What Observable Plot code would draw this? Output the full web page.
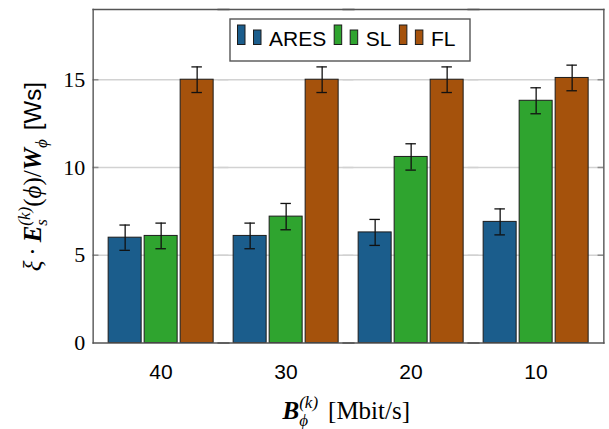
<!DOCTYPE html>
<html>
<head>
<meta charset="utf-8">
<script src="https://cdn.jsdelivr.net/npm/d3@7"></script>
<script src="https://cdn.jsdelivr.net/npm/@observablehq/plot@0.6"></script>
<style>
  body { margin: 0; background: #fff; }
  #chart { width: 609px; height: 429px; }
</style>
</head>
<body>
<div id="chart"></div>
<script>
// Bandwidth categories (Mbit/s) and the three schemes
const categories = ["40", "30", "20", "10"];
const series = ["ARES", "SL", "FL"];

// Normalised energy per scheme, one value per bandwidth
const aresValues = [6.0, 6.1, 6.3, 6.9];
const slValues = [6.1, 7.2, 10.6, 13.8];
const flValues = [15.0, 15.0, 15.0, 15.1];

// Half-widths of the error bars
const aresErr = [0.72, 0.73, 0.74, 0.74];
const slErr = [0.73, 0.75, 0.75, 0.74];
const flErr = [0.73, 0.73, 0.73, 0.73];

const colors = ["#1b5d8c", "#2fa42f", "#a5520c"];
const yTicks = [0, 5, 10, 15];

const W = 609, H = 429;
// the axis box runs 5.35px past the outer facets on each side
const ext = 5.35;
const margin = {left: 92.5 + ext, right: 5 + ext, top: 9, bottom: 86.5};
const facetW = (W - margin.left - margin.right) / categories.length;
const tickLen = 6;

const valuesBySeries = [aresValues, slValues, flValues];
const errBySeries = [aresErr, slErr, flErr];
const rows = [];
categories.forEach((c, i) => {
  series.forEach((s, j) => {
    rows.push({category: c, series: s, value: valuesBySeries[j][i], err: errBySeries[j][i]});
  });
});

const frameStroke = {stroke: "#555", strokeWidth: 1.4};

const plot = Plot.plot({
  width: W,
  height: H,
  marginLeft: margin.left,
  marginRight: margin.right,
  marginTop: margin.top,
  marginBottom: margin.bottom,
  style: {fontFamily: "Liberation Sans, Arial, sans-serif", fontSize: "21px", background: "#fff", color: "#000"},
  fx: {domain: categories, padding: 0},
  x: {domain: series, paddingInner: 0.087, paddingOuter: 0.249, axis: null},
  y: {domain: [0, 19], axis: null},
  color: {domain: series, range: colors},
  marks: [
    // horizontal grid, stretched so neighbouring facets join up
    Plot.ruleY(yTicks.slice(1), {stroke: "#d2d2d2", strokeWidth: 1.5, insetLeft: -ext, insetRight: -ext}),
    // short inner tick marks on both sides of the box
    Plot.ruleY(yTicks.slice(1), {facetAnchor: "left", stroke: "#8c8c8c", strokeWidth: 1.5,
      insetLeft: -ext, insetRight: facetW + ext - tickLen}),
    Plot.ruleY(yTicks.slice(1), {facetAnchor: "right", stroke: "#8c8c8c", strokeWidth: 1.5,
      insetLeft: facetW + ext - tickLen, insetRight: -ext}),
    // bars
    Plot.barY(rows, {fx: "category", x: "series", y: "value", fill: "series", stroke: "#1c1c1c", strokeWidth: 1}),
    // error bars and caps
    Plot.ruleX(rows, {fx: "category", x: "series", y1: d => d.value - d.err, y2: d => d.value + d.err, stroke: "#111", strokeWidth: 1.3}),
    Plot.tickY(rows, {fx: "category", x: "series", y: d => d.value - d.err, stroke: "#111", strokeWidth: 1.3, insetLeft: 11.25, insetRight: 11.25}),
    Plot.tickY(rows, {fx: "category", x: "series", y: d => d.value + d.err, stroke: "#111", strokeWidth: 1.3, insetLeft: 11.25, insetRight: 11.25}),
    // y tick labels
    Plot.text(yTicks, {facetAnchor: "left", y: d => d, text: d => String(d), frameAnchor: "left", textAnchor: "end", dx: -8 - ext,
      fontFamily: "Liberation Serif, Times New Roman, serif", fontSize: 22, fill: "#000"}),
    // category labels
    Plot.axisFx({anchor: "bottom", tickSize: 0, tickPadding: 21.5, label: null, fontSize: 21}),
    // axis box: top and bottom edges in every facet, sides only at the ends
    Plot.frame({anchor: "top", insetLeft: -ext, insetRight: -ext, ...frameStroke}),
    Plot.frame({anchor: "bottom", insetLeft: -ext, insetRight: -ext, ...frameStroke}),
    Plot.frame({anchor: "left", facetAnchor: "left", insetLeft: -ext, ...frameStroke}),
    Plot.frame({anchor: "right", facetAnchor: "right", insetRight: -ext, ...frameStroke})
  ]
});

document.getElementById("chart").appendChild(plot);

const svg = d3.select(plot);
const SERIF = "Liberation Serif, DejaVu Serif, serif";
const SANS = "Liberation Sans, DejaVu Sans, sans-serif";

function addText(parent, p, x) {
  return parent.append("text")
    .attr("x", x)
    .attr("y", p.shift ?? 0)
    .attr("text-anchor", "start")
    .attr("font-family", p.family ?? SERIF)
    .attr("font-size", p.size)
    .attr("font-style", p.italic ? "italic" : "normal")
    .attr("font-weight", p.bold ? "bold" : "normal")
    .attr("fill", "#000")
    .text(p.text);
}

// lays out a run of text pieces left to right; a "stack" entry puts a
// superscript and a subscript at the same horizontal position
function typeset(parent, parts) {
  let x = 0;
  for (const p of parts) {
    if (p.gap) { x += p.gap; continue; }
    if (p.stack) {
      let w = 0;
      for (const q of p.stack) w = Math.max(w, addText(parent, q, x).node().getComputedTextLength());
      x += w;
    } else {
      x += addText(parent, p, x).node().getComputedTextLength();
    }
  }
  return x;
}

const F = 25, S = 17;
const boxLeft = 92.5, boxRight = W - 5;

// y-axis title
const yOuter = svg.append("g")
  .attr("transform", `translate(40.5,${(margin.top + H - margin.bottom) / 2 + 1}) rotate(-90)`);
const yInner = yOuter.append("g");
const yWidth = typeset(yInner, [
  {text: "ξ", size: F, italic: true},
  {gap: 5},
  {text: "·", size: F},
  {gap: 5},
  {text: "E", size: F, italic: true, bold: true},
  {stack: [
    {text: "(k)", size: S, italic: true, shift: -11},
    {text: "s", size: S, italic: true, shift: 6}
  ]},
  {text: "(", size: F},
  {text: "ϕ", size: F, italic: true},
  {text: ")/", size: F},
  {text: "W", size: F, italic: true, bold: true},
  {text: "ϕ", size: S, italic: true, shift: 6},
  {gap: 9},
  {text: "[Ws]", size: F - 1, family: SANS}
]);
yInner.attr("transform", `translate(${-yWidth / 2},0)`);

// x-axis title
const xg = svg.append("g");
const xWidth = typeset(xg, [
  {text: "B", size: F, italic: true, bold: true},
  {stack: [
    {text: "(k)", size: S, italic: true, shift: -11},
    {text: "ϕ", size: S, italic: true, shift: 7}
  ]},
  {gap: 10},
  {text: "[Mbit/s]", size: F}
]);
xg.attr("transform", `translate(${(boxLeft + boxRight) / 2 - xWidth / 2 - 2},419)`);

// legend box inside the plot
const lg = svg.append("g");
lg.append("rect")
  .attr("x", 230).attr("y", 19).attr("width", 240).attr("height", 42)
  .attr("fill", "#fff").attr("stroke", "#555").attr("stroke-width", 1.4);
let lx = 237.5;
series.forEach((s, i) => {
  const c = colors[i];
  lg.append("rect").attr("x", lx).attr("y", 25).attr("width", 7.5).attr("height", 19.5)
    .attr("fill", c).attr("stroke", "#1c1c1c").attr("stroke-width", 1);
  lg.append("rect").attr("x", lx + 16).attr("y", 30).attr("width", 7.5).attr("height", 14.5)
    .attr("fill", c).attr("stroke", "#1c1c1c").attr("stroke-width", 1);
  const t = lg.append("text").attr("x", lx + 31.5).attr("y", 46).attr("text-anchor", "start")
    .attr("font-family", SANS).attr("font-size", 21).attr("fill", "#000").text(s);
  lx += 31.5 + t.node().getComputedTextLength() + 8;
});
</script>
</body>
</html>
